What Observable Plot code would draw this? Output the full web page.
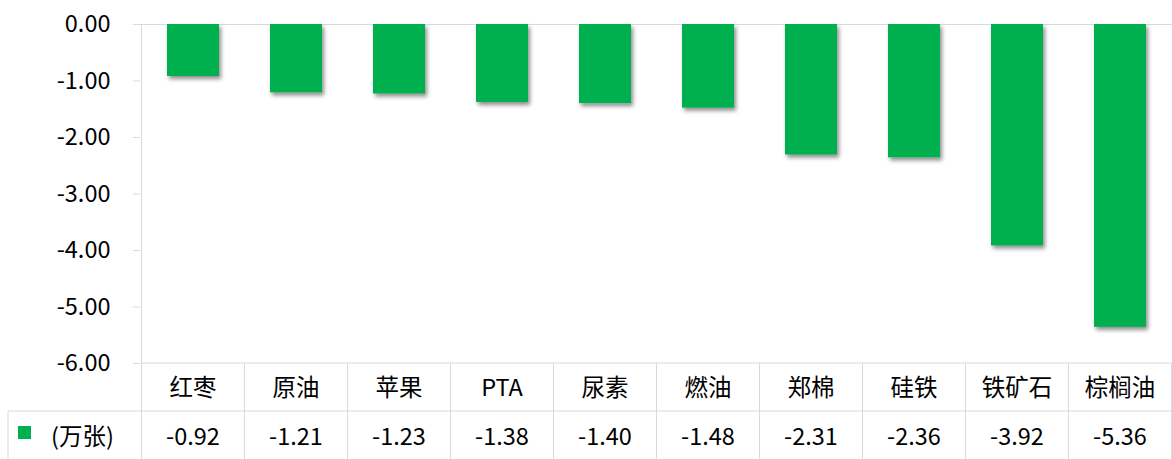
<!DOCTYPE html>
<html>
<head>
<meta charset="utf-8">
<script src="https://cdn.jsdelivr.net/npm/d3@7"></script>
<script src="https://cdn.jsdelivr.net/npm/@observablehq/plot@0.6"></script>
<style>
  html, body { margin: 0; padding: 0; background: #fff; }
  #chart { width: 1172px; height: 459px; overflow: hidden; }
</style>
</head>
<body>
<div id="chart"></div>
<script>
const categories = ["红枣", "原油", "苹果", "PTA", "尿素", "燃油", "郑棉", "硅铁", "铁矿石", "棕榈油"];
const values = [-0.92, -1.21, -1.23, -1.38, -1.40, -1.48, -2.31, -2.36, -3.92, -5.36];
const yTicks = [0, -1, -2, -3, -4, -5, -6];
const seriesLabel = "(万张)";
const barColor = "#00B050";
const gridColor = "#d9d9d9";

const data = categories.map((c, i) => ({ cat: c, value: values[i] }));
const fontFamily = "'Noto Sans CJK SC', 'Noto Sans', sans-serif";
const fs = 23.5;

const plot = Plot.plot({
  width: 1172,
  height: 459,
  marginLeft: 140,
  marginRight: 0,
  marginTop: 24,
  marginBottom: 96,
  style: { fontFamily, fontSize: fs + "px", color: "#000", background: "#fff", overflow: "visible" },
  x: { domain: categories, range: [140, 1173], paddingInner: 0.5, paddingOuter: 0.25, axis: null },
  y: { domain: [-6, 0], ticks: yTicks, tickFormat: d => d.toFixed(2), tickSize: 7, tickPadding: 23, label: null, line: false },
  marks: [
    Plot.ruleY([0], { stroke: gridColor, strokeWidth: 1 }),
    Plot.barY(data, { x: "cat", y1: 0, y2: "value", fill: barColor })
  ]
});

document.getElementById("chart").appendChild(plot);

const svg = d3.select(plot);
svg.selectAll("[aria-label^='y-axis'] line, [aria-label^='y-axis'] path").attr("stroke", gridColor);

// drop shadow for bars
const defs = svg.insert("defs", ":first-child");
const f = defs.append("filter").attr("id", "shadow").attr("x", "-20%").attr("y", "-20%").attr("width", "150%").attr("height", "150%");
f.append("feDropShadow").attr("dx", 2).attr("dy", 3).attr("stdDeviation", 2).attr("flood-color", "#000").attr("flood-opacity", 0.45);
svg.selectAll("[aria-label='bar']").attr("filter", "url(#shadow)");

// data table drawn with the plot's scales
const xs = plot.scale("x");
const ys = plot.scale("y");
const step = xs.step;
const bw = xs.bandwidth;
const xPos = c => xs.apply(c);
const yBottom = ys.apply(-6);
const rowMid = 411;
const H = 459;
const left = xPos(categories[0]) - (step - bw) / 2;
const right = xPos(categories[categories.length - 1]) + bw + (step - bw) / 2;

const g = svg.append("g").attr("aria-label", "data-table").attr("text-anchor", "middle");
// left axis line
g.append("line").attr("x1", left).attr("x2", left).attr("y1", ys.apply(0)).attr("y2", H).attr("stroke", gridColor);
// horizontal lines
g.append("line").attr("x1", left).attr("x2", right).attr("y1", yBottom).attr("y2", yBottom).attr("stroke", gridColor);
g.append("line").attr("x1", 8).attr("x2", right).attr("y1", rowMid).attr("y2", rowMid).attr("stroke", gridColor);
g.append("line").attr("x1", 8).attr("x2", 8).attr("y1", rowMid).attr("y2", H).attr("stroke", gridColor);
// column separators
categories.forEach((c, i) => {
  if (i === 0) return;
  const xb = xPos(c) - (step - bw) / 2;
  g.append("line").attr("x1", xb).attr("x2", xb).attr("y1", yBottom).attr("y2", H).attr("stroke", gridColor);
});
g.append("line").attr("x1", right).attr("x2", right).attr("y1", yBottom).attr("y2", H).attr("stroke", gridColor);

// category labels and values
categories.forEach((c, i) => {
  const cx = xPos(c) + bw / 2;
  g.append("text").attr("x", cx).attr("y", (yBottom + rowMid) / 2 + 1).attr("dy", "0.35em")
    .attr("text-anchor", "middle").attr("font-family", fontFamily).attr("font-size", fs).attr("fill", "#000").text(c);
  g.append("text").attr("x", cx).attr("y", (rowMid + H) / 2 + 2).attr("dy", "0.35em")
    .attr("text-anchor", "middle").attr("font-family", fontFamily).attr("font-size", fs).attr("fill", "#000").text(values[i].toFixed(2));
});
// legend key
g.append("rect").attr("x", 18).attr("y", 426).attr("width", 13).attr("height", 13).attr("fill", barColor);
g.append("text").attr("x", 51).attr("y", (rowMid + H) / 2 + 2).attr("dy", "0.35em")
  .attr("text-anchor", "start").attr("font-family", fontFamily).attr("font-size", fs).attr("fill", "#000").text(seriesLabel);
</script>
</body>
</html>
